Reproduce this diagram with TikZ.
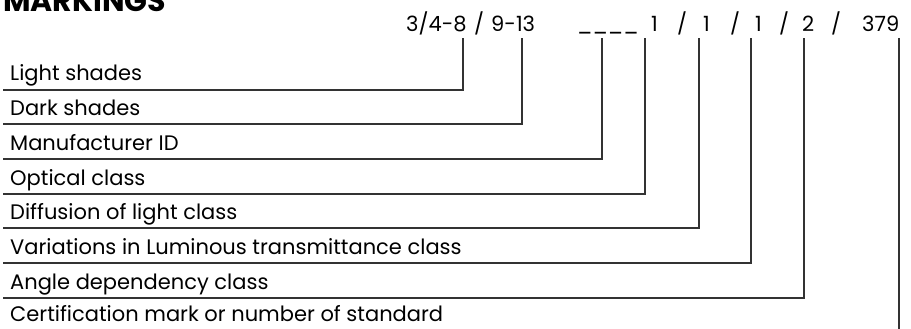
\documentclass[tikz,border=0pt]{standalone}
\usepackage{fontspec}
\setmainfont{Poppins}

\tikzset{
  code/.style  = {anchor=base west, inner sep=0pt, font=\fontsize{21}{21}\selectfont},
  lbl/.style   = {anchor=base west, inner sep=0pt, font=\fontsize{21}{21}\selectfont},
  title/.style = {anchor=base west, inner sep=0pt, font=\fontsize{30}{30}\selectfont\bfseries},
  lead/.style  = {line width=1.1pt, black!80},
}

\begin{document}
\begin{tikzpicture}[x=1pt, y=-1pt]
  \useasboundingbox (0,0) rectangle (911,329);

  % Title (cut at the top edge)
  \node[title] (title) at (3,12) {MARKINGS};

  % Marking code
  \node[code] (light)  at (406,31.5) {3/4-8};
  \node[code] (sl1)    at (474,31.5) {/};
  \node[code] (dark)   at (491,31.5) {9-13};
  \node[code] (maker)  at (577,31.5) {\_\_\_\_};
  \node[code] (optic)  at (651,31.5) {1};
  \node[code] (sl2)    at (677,31.5) {/};
  \node[code] (diffus) at (703,31.5) {1};
  \node[code] (sl3)    at (730,31.5) {/};
  \node[code] (lumin)  at (755,31.5) {1};
  \node[code] (sl4)    at (779,31.5) {/};
  \node[code] (angle)  at (802,31.5) {2};
  \node[code] (sl5)    at (831,31.5) {/};
  \node[code] (cert)   at (862,31.5) {379};

  % Tops of the leader lines
  \coordinate (light-top)  at (463,38);
  \coordinate (dark-top)   at (522,38);
  \coordinate (maker-top)  at (602,38);
  \coordinate (optic-top)  at (645,38);
  \coordinate (diffus-top) at (699,38);
  \coordinate (lumin-top)  at (751,38);
  \coordinate (angle-top)  at (804,38);
  \coordinate (cert-top)   at (899,38);
  \coordinate (cert-end)   at (899,329);

  % Labels
  \node[lbl] (light-lbl)  at (10,81)  {Light shades};
  \node[lbl] (dark-lbl)   at (10,115) {Dark shades};
  \node[lbl] (maker-lbl)  at (10,150) {Manufacturer ID};
  \node[lbl] (optic-lbl)  at (10,185) {Optical class};
  \node[lbl] (diffus-lbl) at (10,219) {Diffusion of light class};
  \node[lbl] (lumin-lbl)  at (10,254) {Variations in Luminous transmittance class};
  \node[lbl] (angle-lbl)  at (10,289) {Angle dependency class};
  \node[lbl] (cert-lbl)   at (10,321) {Certification mark or number of standard};

  % Underlines
  \coordinate (light-line)  at (3,90);
  \coordinate (dark-line)   at (3,124);
  \coordinate (maker-line)  at (3,159);
  \coordinate (optic-line)  at (3,194);
  \coordinate (diffus-line) at (3,228);
  \coordinate (lumin-line)  at (3,263);
  \coordinate (angle-line)  at (3,298);

  % Leaders
  \draw[lead] (light-line)  -| (light-top);
  \draw[lead] (dark-line)   -| (dark-top);
  \draw[lead] (maker-line)  -| (maker-top);
  \draw[lead] (optic-line)  -| (optic-top);
  \draw[lead] (diffus-line) -| (diffus-top);
  \draw[lead] (lumin-line)  -| (lumin-top);
  \draw[lead] (angle-line)  -| (angle-top);
  \draw[lead] (cert-top) -- (cert-end);
\end{tikzpicture}
\end{document}
